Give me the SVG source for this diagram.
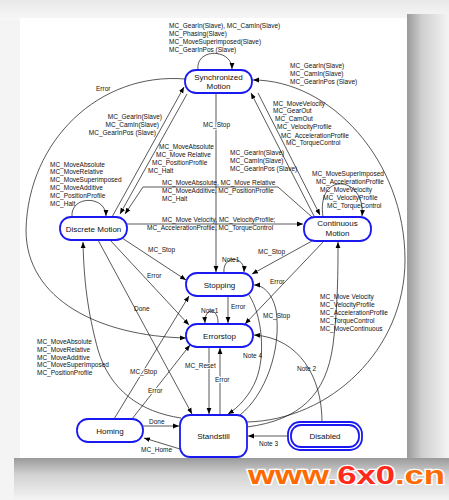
<svg xmlns="http://www.w3.org/2000/svg" width="449" height="500" viewBox="0 0 449 500">
<defs>
<linearGradient id="gR" x1="0" y1="0" x2="1" y2="0"><stop offset="0" stop-color="#9a9a9a"/><stop offset="0.35" stop-color="#cfcfcf"/><stop offset="1" stop-color="#f4f4f4"/></linearGradient>
<linearGradient id="gB" x1="0" y1="0" x2="0" y2="1"><stop offset="0" stop-color="#9a9a9a"/><stop offset="0.4" stop-color="#d2d2d2"/><stop offset="1" stop-color="#f4f4f4"/></linearGradient>
<linearGradient id="gT" x1="0" y1="0" x2="0" y2="1"><stop offset="0" stop-color="#e9e9e9"/><stop offset="1" stop-color="#f7f7f7"/></linearGradient>
<marker id="a" viewBox="0 0 10 10" refX="10" refY="5" markerWidth="6" markerHeight="6" markerUnits="userSpaceOnUse" orient="auto"><path d="M0,1 L10,5 L0,9 z" fill="#000"/></marker>
</defs>
<style>
.n rect{fill:#fff;stroke:#1a1af0;stroke-width:1.8}
.n text{font-family:"Liberation Sans",Arial,sans-serif;font-size:8px;fill:#111;text-anchor:middle}
.c path{fill:none;stroke:#111;stroke-width:0.7;marker-end:url(#a)}
.l text{font-family:"Liberation Sans",Arial,sans-serif;font-size:6.5px;fill:#111}
.h{paint-order:stroke;stroke:#fff;stroke-width:2}
.e{text-anchor:end}
</style>
<rect x="0" y="0" width="449" height="500" fill="#f4f4f4"/>
<rect x="0" y="0" width="449" height="20" fill="url(#gT)"/>
<rect x="407" y="14" width="42" height="486" fill="url(#gR)"/>
<rect x="14" y="458" width="435" height="42" fill="url(#gB)"/>
<rect x="20" y="18" width="387" height="440" fill="#fff"/>

<g class="c" id="connectors">
<path d="M198,70 C195,48 232,48 232,69"/>
<path d="M185,79 C100,72 28,140 26,230 C26,300 100,336 186,338"/>
<path d="M112,217 L184,87"/>
<path d="M187,94 L120,214"/>
<path d="M312,217 L278,187 L143,187 L125,214"/>
<path d="M127,224 L303,224"/>
<path d="M216,93 L216,272"/>
<path d="M314,216 L251,93"/>
<path d="M258,93 L320,215"/>
<path d="M323,217 C316,170 366,176 362,216"/>
<path d="M72,217 C70,195 106,195 106,216"/>
<path d="M247,422 C330,420 405,350 405,260 C405,160 330,80 253,80"/>
<path d="M247,427 C300,420 326,395 333,345 C338,305 338,270 338,242"/>
<path d="M322,422 C322,378 300,338 254,335"/>
<path d="M288,436 L248,436"/>
<path d="M143,426 L179,426"/>
<path d="M180,449 L144,438"/>
<path d="M181,418 C140,412 110,390 98,350 C90,320 84,290 83,242"/>
<path d="M98,240 L192,414"/>
<path d="M110,240 L189,325"/>
<path d="M122,238 L186,280"/>
<path d="M312,241 L252,274"/>
<path d="M324,241 L245,324"/>
<path d="M224,273 C222,255 245,255 244,272"/>
<path d="M228,296 L228,323"/>
<path d="M218,324 C219,307 204,307 205,323"/>
<path d="M209,347 L209,414"/>
<path d="M220,415 L220,348"/>
<path d="M249,295 C262,315 266,355 256,380 C250,395 238,408 228,414"/>
<path d="M240,415 C265,395 282,350 276,310 C272,292 262,285 254,285"/>
<path d="M114,419 L189,296"/>
<path d="M132,419 L190,345"/>
</g>

<g class="l" id="labels">
<text x="169" y="28">MC_GearIn(Slave), MC_CamIn(Slave)</text>
<text x="169" y="36">MC_Phasing(Slave)</text>
<text x="169" y="44">MC_MoveSuperimposed(Slave)</text>
<text x="169" y="52">MC_GearInPos (Slave)</text>
<text x="290" y="68">MC_GearIn(Slave)</text>
<text x="290" y="76">MC_CamIn(Slave)</text>
<text x="290" y="84">MC_GearInPos (Slave)</text>
<text x="96" y="91">Error</text>
<text class="e" x="162" y="119">MC_GearIn(Slave)</text>
<text class="e" x="159" y="127">MC_CamIn(Slave)</text>
<text class="e" x="156" y="135">MC_GearInPos (Slave)</text>
<text x="159" y="149">MC_MoveAbsolute</text>
<text x="156" y="157">MC_Move Relative</text>
<text x="152" y="165">MC_PositionProfile</text>
<text x="148" y="173">MC_Halt</text>
<text class="h" x="203" y="126.5">MC_Stop</text>
<text x="273" y="106.3">MC_MoveVelocity</text>
<text x="273" y="113.3">MC_GearOut</text>
<text x="275" y="121.3">MC_CamOut</text>
<text x="277" y="129.3">MC_VelocityProfile</text>
<text x="281" y="138">MC_AccelerationProfile</text>
<text x="286" y="145.3">MC_TorqueControl</text>
<text x="230" y="155.3">MC_GearIn(Slave)</text>
<text x="230" y="163.3">MC_CamIn(Slave)</text>
<text x="230" y="171.3">MC_GearInPos (Slave)</text>
<text x="312" y="176.3">MC_MoveSuperImposed</text>
<text x="316" y="184.3">MC_AccelerationProfile</text>
<text x="320" y="192.3">MC_MoveVelocity</text>
<text x="323" y="200.3">MC_VelocityProfile</text>
<text x="327" y="207.5">MC_TorqueControl</text>
<text x="50" y="166.5">MC_MoveAbsolute</text>
<text x="50" y="174.3">MC_MoveRelative</text>
<text x="50" y="182">MC_MoveSuperimposed</text>
<text x="50" y="190">MC_MoveAdditive</text>
<text x="50" y="198">MC_PositionProfile</text>
<text x="50" y="205.5">MC_Halt</text>
<text x="162" y="185.3">MC_MoveAbsolute, MC_Move Relative</text>
<text x="162" y="193">MC_MoveAdditive, MC_PositionProfile</text>
<text x="162" y="200.5">MC_Halt</text>
<text x="162" y="222">MC_Move Velocity, MC_VelocityProfile;</text>
<text x="147" y="230.3">MC_AccelerationProfile, MC_TorqueControl</text>
<text x="148" y="251.5">MC_Stop</text>
<text x="258" y="254.3">MC_Stop</text>
<text x="222" y="261.5">Note1</text>
<text x="147" y="278">Error</text>
<text x="270" y="284">Error</text>
<text x="134" y="310.5">Done</text>
<text x="231" y="309">Error</text>
<text x="263" y="317.5">MC_Stop</text>
<text x="201" y="313">Note1</text>
<text x="320" y="299">MC_Move Velocity</text>
<text x="320" y="306.5">MC_VelocityProfile</text>
<text x="320" y="314.5">MC_AccelerationProfile</text>
<text x="320" y="322.5">MC_TorqueControl</text>
<text x="320" y="330.5">MC_MoveContinuous</text>
<text x="37" y="344">MC_MoveAbsolute</text>
<text x="37" y="351.6">MC_MoveRelative</text>
<text x="37" y="359.5">MC_MoveAdditive</text>
<text x="37" y="367.3">MC_MoveSuperImposed</text>
<text x="37" y="375">MC_PositionProfile</text>
<text x="243" y="357.5">Note 4</text>
<text x="297" y="371">Note 2</text>
<text class="h" x="185" y="368.3">MC_Reset</text>
<text class="h" x="215" y="381.5">Error</text>
<text class="h" x="130" y="373.5">MC_Stop</text>
<text class="h" x="148" y="392.5">Error</text>
<text x="149" y="424">Done</text>
<text x="141" y="452">MC_Home</text>
<text x="259" y="445.5">Note 3</text>
</g>

<g class="n" id="synchronized-motion"><rect x="185" y="70" width="67" height="23" rx="11"/><text x="218.5" y="79.5">Synchronized</text><text x="218.5" y="89">Motion</text></g>
<g class="n" id="discrete-motion"><rect x="60" y="217" width="67" height="23" rx="11"/><text x="93.5" y="231.5">Discrete Motion</text></g>
<g class="n" id="continuous-motion"><rect x="304" y="217" width="67" height="24" rx="11"/><text x="337.5" y="226">Continuous</text><text x="337.5" y="235.5">Motion</text></g>
<g class="n" id="stopping"><rect x="186" y="273" width="67" height="23" rx="11"/><text x="219.5" y="287.8">Stopping</text></g>
<g class="n" id="errorstop"><rect x="186" y="324" width="67" height="23" rx="11"/><text x="219.5" y="338.5">Errorstop</text></g>
<g class="n" id="homing"><rect x="77" y="419" width="66" height="23" rx="11"/><text x="110" y="433.8">Homing</text></g>
<g class="n" id="standstill"><rect x="180" y="415" width="67" height="42" rx="10"/><text x="213.5" y="438.5">Standstill</text></g>
<g class="n" id="disabled"><rect x="288" y="422" width="74" height="28" rx="12"/><rect x="291" y="425" width="68" height="22" rx="10"/><text x="325" y="438.5">Disabled</text></g>

<g id="watermark">
<text x="248" y="484" textLength="197" lengthAdjust="spacingAndGlyphs" font-family="'Liberation Sans',Arial,sans-serif" font-weight="bold" font-size="25" stroke="#fff" stroke-width="2.5" paint-order="stroke" fill="#ff6a00">www.<tspan fill="#ff2a1a">6x0</tspan>.cn</text>
</g>
</svg>
